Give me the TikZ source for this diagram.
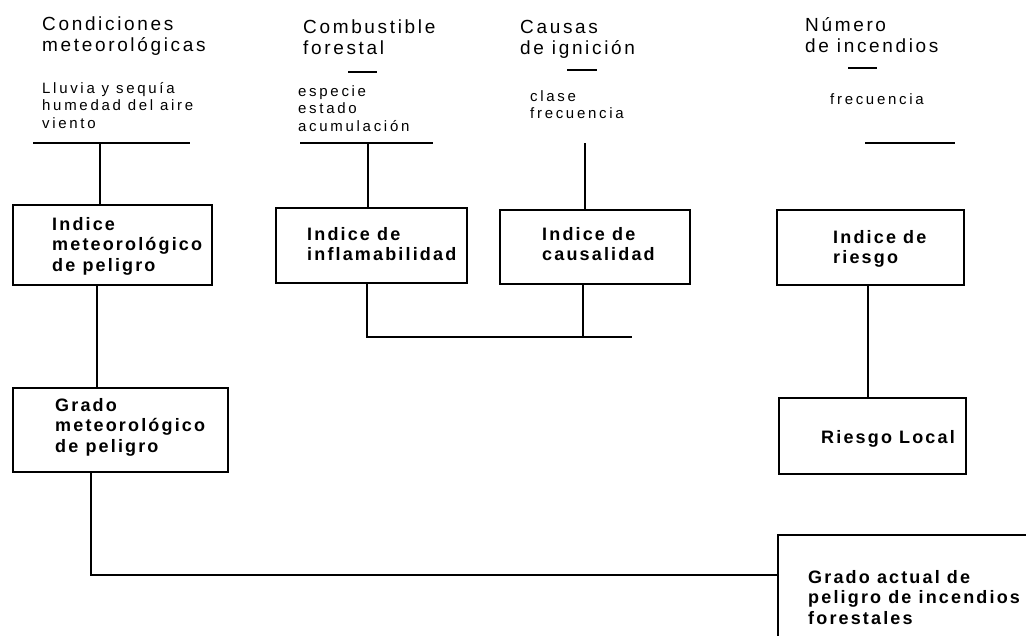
\documentclass[tikz,border=0pt]{standalone}
\usepackage{fontspec}
\setmainfont{Liberation Sans}
\newfontfamily\headfont[LetterSpace=14]{Liberation Sans}
\newfontfamily\itemfont[LetterSpace=18]{Liberation Sans}
\newfontfamily\boxfont[LetterSpace=12]{Liberation Sans}
\begin{document}
\begin{tikzpicture}[x=1pt,y=-1pt,
  head/.style={font=\headfont\fontsize{19}{21}\selectfont, anchor=north west, inner sep=0pt, align=left},
  item/.style={font=\itemfont\fontsize{15}{17.5}\selectfont, anchor=north west, inner sep=0pt, align=left},
  label/.style={font=\boxfont\bfseries\fontsize{18}{20.5}\selectfont, anchor=north west, inner sep=0pt, align=left},
  frame/.style={draw, line width=1.2pt, inner sep=0pt},
  link/.style={draw, line width=1.2pt},
]
\clip (0,0) rectangle (1026,635);
\fill[white] (0,0) rectangle (1026,635);

% headings
\node[head] (h1) at (42,17) {Condiciones\\meteorológicas};
\node[head] (h2) at (303,20) {Combustible\\forestal};
\node[head] (h3) at (520,20) {Causas\\de ignición};
\node[head] (h4) at (805,17) {Número\\de incendios};

% items
\node[item] (i1) at (42,82) {Lluvia y sequía\\humedad del aire\\viento};
\node[item] (i2) at (298,85) {especie\\estado\\acumulación};
\node[item] (i3) at (530,90) {clase\\frecuencia};
\node[item] (i4) at (830,93) {frecuencia};

% short rules under headings
\coordinate (r2a) at (348,72); \coordinate (r2b) at (377,72);
\coordinate (r3a) at (567,70); \coordinate (r3b) at (597,70);
\coordinate (r4a) at (848,68); \coordinate (r4b) at (877,68);
\draw[link] (r2a) -- (r2b);
\draw[link] (r3a) -- (r3b);
\draw[link] (r4a) -- (r4b);

% lines under the items
\coordinate (u1a) at (33,143); \coordinate (u1b) at (190,143);
\coordinate (u2a) at (300,143); \coordinate (u2b) at (433,143);
\coordinate (u4a) at (865,143); \coordinate (u4b) at (955,143);
\draw[link] (u1a) -- (u1b);
\draw[link] (u2a) -- (u2b);
\draw[link] (u4a) -- (u4b);

% boxes
\node[frame, minimum width=199pt, minimum height=80pt] (b1) at (112.5,245) {};
\node[frame, minimum width=191pt, minimum height=75pt] (b2) at (371.5,245.5) {};
\node[frame, minimum width=190pt, minimum height=74pt] (b3) at (595,247) {};
\node[frame, minimum width=187pt, minimum height=75pt] (b4) at (870.5,247.5) {};
\node[frame, minimum width=187pt, minimum height=76pt] (b5) at (872.5,436) {};
\node[frame, minimum width=215pt, minimum height=84pt] (b6) at (120.5,430) {};
\node[frame, minimum width=256pt, minimum height=130pt] (b7) at (906,600) {};

% box labels
\node[label] (t1) at (52,217) {Indice\\meteorológico\\de peligro};
\node[label] (t2) at (307,227) {Indice de\\inflamabilidad};
\node[label] (t3) at (542,227) {Indice de\\causalidad};
\node[label] (t4) at (833,230) {Indice de\\riesgo};
\node[label] (t5) at (821,430) {Riesgo Local};
\node[label] (t6) at (55,398) {Grado\\meteorológico\\de peligro};
\node[label] (t7) at (808,570) {Grado actual de\\peligro de incendios\\forestales};

% connectors
\draw[link] (u1a -| 100,0) -- (b1.north -| 100,0);
\draw[link] (u2a -| 368,0) -- (b2.north -| 368,0);
\coordinate (c3) at (585,143);
\draw[link] (c3) -- (b3.north -| c3);
\draw[link] (b4.south -| 868,0) -- (b5.north -| 868,0);
\draw[link] (b1.south -| 97,0) -- (b6.north -| 97,0);

\coordinate (j1) at (367,337);
\coordinate (j2) at (632,337);
\draw[link] (b2.south -| j1) -- (j1) -- (j2);
\draw[link] (b3.south -| 583,0) -- (583,337);

\coordinate (j3) at (91,575);
\draw[link] (b6.south -| j3) -- (j3) -- (j3 -| b7.west);
\end{tikzpicture}
\end{document}
